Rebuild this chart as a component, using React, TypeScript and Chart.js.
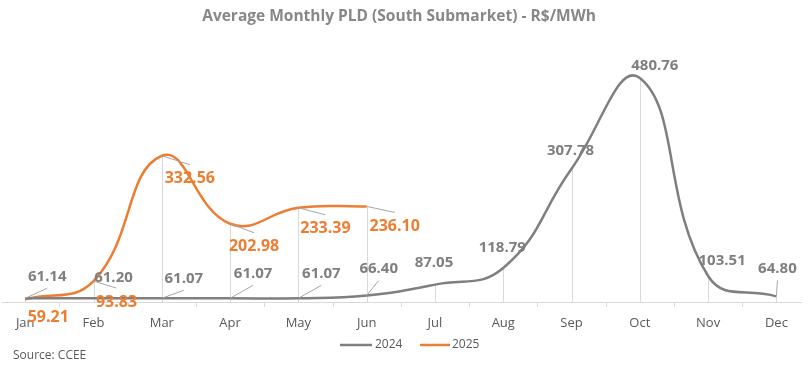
import React, { useEffect, useRef } from "react";
import { Chart, registerables } from "chart.js";

Chart.register(...registerables);

const MONTHS = ["Jan", "Feb", "Mar", "Apr", "May", "Jun", "Jul", "Aug", "Sep", "Oct", "Nov", "Dec"];
const SERIES_2024 = [61.14, 61.2, 61.07, 61.07, 61.07, 66.4, 87.05, 118.79, 307.78, 480.76, 103.51, 64.8];
const SERIES_2025 = [59.21, 93.83, 332.56, 202.98, 233.39, 236.1];
const TITLE = "Average Monthly PLD (South Submarket) - R$/MWh";
const SOURCE = "Source: CCEE";

// label placement (offset of text centre from the point) and whether a leader line shows
const LABEL_POS_2024 = [
  [22, -22, 1], [20, -20, 0], [22, -20, 1], [23, -25, 1], [23, -25, 1], [12, -27, 1],
  [-1, -22, 0], [-1, -20, 0], [-1, -18, 0], [15, -12, 0], [14, -15, 0], [1, -28, 1],
];
const LABEL_POS_2025 = [
  [23, 18, 0], [23, 21, 1], [28, 23, 1], [24, 23, 1], [27, 21, 1], [28, 20, 1],
];

const GRAY = "#7f7f7f";
const ORANGE = "#ED7D31";
const FONT = "'Open Sans', Lato, sans-serif";

const overlay = {
  id: "overlay",
  beforeDatasetsDraw(chart: any) {
    const ctx = chart.ctx;
    const xs = chart.scales.x;
    const ys = chart.scales.y;
    const bottom = chart.chartArea.bottom;
    ctx.save();
    ctx.strokeStyle = "#d9d9d9";
    ctx.lineWidth = 1;
    MONTHS.forEach((_, i) => {
      const vals = [SERIES_2024[i], SERIES_2025[i]].filter((v) => v != null) as number[];
      const top = Math.max(...vals);
      const x = Math.round(xs.getPixelForValue(i)) + 0.5;
      ctx.beginPath();
      ctx.moveTo(x, ys.getPixelForValue(top));
      ctx.lineTo(x, bottom);
      ctx.stroke();
    });
    for (let i = 0; i < MONTHS.length - 1; i++) {
      const x = Math.round(xs.getPixelForValue(i + 0.5)) + 0.5;
      ctx.beginPath();
      ctx.moveTo(x, bottom);
      ctx.lineTo(x, bottom + 5);
      ctx.stroke();
    }
    ctx.restore();
  },
  afterDatasetsDraw(chart: any) {
    const ctx = chart.ctx;
    const xs = chart.scales.x;
    const ys = chart.scales.y;
    ctx.save();
    const drawLabels = (data: number[], pos: number[][], color: string, size: number) => {
      data.forEach((v, i) => {
        const px = xs.getPixelForValue(i);
        const py = ys.getPixelForValue(v);
        const [dx, dy, leader] = pos[i];
        const lx = px + dx;
        const ly = py + dy;
        if (leader) {
          ctx.strokeStyle = "#a6a6a6";
          ctx.lineWidth = 1;
          ctx.beginPath();
          ctx.moveTo(px, py);
          ctx.lineTo(lx, dy < 0 ? ly + 12 : ly - 14);
          ctx.stroke();
        }
        ctx.fillStyle = color;
        ctx.font = `bold ${size}px ${FONT}`;
        ctx.textAlign = "center";
        ctx.textBaseline = "middle";
        ctx.fillText(v.toFixed(2), lx, ly);
      });
    };
    drawLabels(SERIES_2024, LABEL_POS_2024, GRAY, 15);
    drawLabels(SERIES_2025, LABEL_POS_2025, ORANGE, 16);

    ctx.fillStyle = "#878787";
    ctx.font = `bold 15.5px ${FONT}`;
    ctx.textAlign = "center";
    ctx.textBaseline = "middle";
    ctx.fillText(TITLE, 399, 17);

    const items = [
      { label: "2024", color: GRAY, x1: 340, x2: 372, tx: 375 },
      { label: "2025", color: ORANGE, x1: 420, x2: 450, tx: 452 },
    ];
    ctx.font = `12px ${FONT}`;
    ctx.textAlign = "left";
    items.forEach((it) => {
      ctx.strokeStyle = it.color;
      ctx.lineWidth = 2.5;
      ctx.beginPath();
      ctx.moveTo(it.x1, 345);
      ctx.lineTo(it.x2, 345);
      ctx.stroke();
      ctx.fillStyle = "#595959";
      ctx.fillText(it.label, it.tx, 345);
    });

    ctx.font = `12px ${FONT}`;
    ctx.fillStyle = "#595959";
    ctx.fillText(SOURCE, 13, 356);
    ctx.restore();
  },
};

export default function App() {
  const ref = useRef<HTMLCanvasElement | null>(null);
  useEffect(() => {
    if (!ref.current) return;
    const chart = new Chart(ref.current, {
      type: "line",
      data: {
        datasets: [
          {
            label: "2024",
            data: SERIES_2024.map((v, i) => ({ x: i, y: v })),
            borderColor: GRAY,
            borderWidth: 2.5,
            tension: 0.45,
            pointRadius: 0,
            fill: false,
          },
          {
            label: "2025",
            data: SERIES_2025.map((v, i) => ({ x: i, y: v })),
            borderColor: ORANGE,
            borderWidth: 2.5,
            tension: 0.45,
            pointRadius: 0,
            fill: false,
          },
        ],
      },
      options: {
        responsive: false,
        animation: false,
        events: [],
        layout: { padding: { top: 41.6, left: 2, right: 7, bottom: 23.4 } },
        plugins: { legend: { display: false }, title: { display: false }, tooltip: { enabled: false } },
        scales: {
          x: {
            type: "linear",
            min: -0.34,
            max: 11.36,
            afterBuildTicks: (scale: any) => {
              scale.ticks = MONTHS.map((_, i) => ({ value: i }));
            },
            grid: { display: false, drawTicks: false },
            border: { display: true, color: "#d9d9d9", width: 1 },
            ticks: {
              padding: 13,
              autoSkip: false,
              maxRotation: 0,
              color: "#595959",
              font: { family: FONT, size: 13 },
              callback: (v: any) => MONTHS[v] ?? "",
            },
          },
          y: { display: false, min: 54, max: 550 },
        },
      },
      plugins: [overlay],
    });
    return () => chart.destroy();
  }, []);
  return (
    <div style={{ position: "absolute", left: 0, top: 0, width: 808, height: 367, background: "#fff" }}>
      <canvas ref={ref} width={808} height={367} />
    </div>
  );
}
